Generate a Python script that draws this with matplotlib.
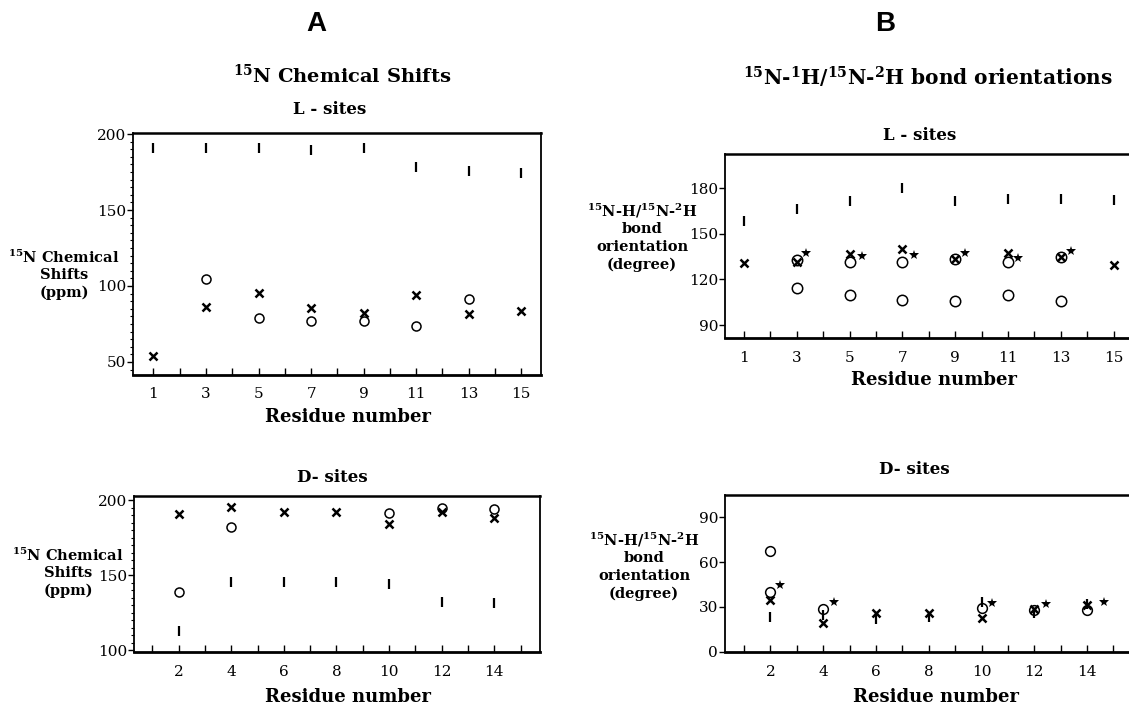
import matplotlib
matplotlib.use('Agg')
import matplotlib.pyplot as plt
from matplotlib.ticker import MultipleLocator

plt.rcParams['font.family'] = 'DejaVu Serif'
plt.rcParams['mathtext.fontset'] = 'dejavuserif'

# residue numbers
res_L = [1, 3, 5, 7, 9, 11, 13, 15]
res_D = [2, 4, 6, 8, 10, 12, 14]

# A: 15N chemical shifts, L-sites
cs_L_bar = [191, 191, 191, 189.5, 191, 178, 175.7, 174.5]
cs_L_x = [54, 86.4, 95.6, 85.5, 82, 94, 81.6, 83.7]
cs_L_circ_res = [3, 5, 7, 9, 11, 13]
cs_L_circ = [104.4, 78.7, 77.2, 77.2, 73.7, 91.4]

# A: 15N chemical shifts, D-sites
cs_D_x = [190.7, 195.1, 192.2, 192.2, 183.8, 191.8, 187.8]
cs_D_bar = [112.4, 145.1, 145.1, 145.1, 143.8, 131.8, 131.1]
cs_D_circ_res = [2, 4, 10, 12, 14]
cs_D_circ = [138.4, 181.8, 191.1, 194.4, 194]

# B: bond orientations, L-sites
or_L_bar = [158.5, 166.4, 171.5, 180, 171.5, 173.2, 172.8, 172.3]
or_L_x = [130.8, 131.8, 137, 140.1, 133.4, 137.3, 134.7, 129.8]
or_L_circ_res = [3, 5, 7, 9, 11, 13]
or_L_circ_hi = [132.9, 131.4, 131.4, 133.4, 131.4, 134.7]
or_L_circ_lo = [114.3, 110, 106.7, 105.6, 110, 105.6]
or_L_star_x = [3.35, 5.47, 7.42, 9.35, 11.37, 13.38]
or_L_star_y = [137.7, 135.1, 136.2, 137.7, 134, 138.4]

# B: bond orientations, D-sites
or_D_x = [34.4, 19.1, 25.8, 25.8, 22.5, 28.8, 31]
or_D_bar = [23.2, 24.3, 22.1, 23.2, 33.2, 25.8, 32.2]
or_D_circ_res = [2, 2, 4, 10, 12, 14]
or_D_circ = [67.5, 40, 28.3, 29.2, 27.7, 28.1]
or_D_star_x = [2.37, 4.41, 10.41, 12.44, 14.65]
or_D_star_y = [44.5, 33.2, 32.6, 31.7, 33.2]

W, H = 1129, 705
fig = plt.figure(figsize=(W / 100, H / 100), dpi=100)


def px_axes(l, t, r, b):
    # axes from pixel box
    return fig.add_axes([l / W, 1 - b / H, (r - l) / W, (b - t) / H])


def style(ax, xt, xlim, ylim, ymajor, yminor=None):
    ax.set_xlim(*xlim)
    ax.set_ylim(*ylim)
    ax.set_xticks(xt)
    ax.xaxis.set_minor_locator(MultipleLocator(1))
    ax.yaxis.set_major_locator(MultipleLocator(ymajor))
    if yminor:
        ax.yaxis.set_minor_locator(MultipleLocator(yminor))
        ax.tick_params(axis='y', which='minor', direction='out', length=2, width=0.8)
    ax.tick_params(axis='x', which='both', direction='in', length=5, width=1, pad=9, labelsize=11)
    ax.tick_params(axis='y', which='major', direction='out', length=4, width=1, pad=1, labelsize=11)
    for s in ax.spines.values():
        s.set_linewidth(1.3)
    ax.spines['bottom'].set_linewidth(2)
    ax.spines['top'].set_linewidth(1.8)


def pts(ax, x, y, kind, ms):
    if kind == 'o':
        ax.plot(x, y, 'o', ls='none', mfc='none', mec='black', ms=ms, mew=1.1)
    elif kind == 'x':
        ax.plot(x, y, 'x', ls='none', color='black', ms=ms, mew=1.8)
    elif kind == '|':
        ax.plot(x, y, '|', ls='none', color='black', ms=ms, mew=1.6)
    else:
        ax.plot(x, y, '*', ls='none', color='black', ms=ms, mew=0)


# top left
ax1 = px_axes(133, 133, 541, 375)
pts(ax1, res_L, cs_L_bar, '|', 7)
pts(ax1, res_L, cs_L_x, 'x', 6)
pts(ax1, cs_L_circ_res, cs_L_circ, 'o', 6.5)
style(ax1, res_L, (0.22, 15.75), (41.4, 200.7), 50, 5)

# bottom left
ax2 = px_axes(134, 496, 540, 652)
pts(ax2, res_D, cs_D_bar, '|', 7)
pts(ax2, res_D, cs_D_x, 'x', 6)
pts(ax2, cs_D_circ_res, cs_D_circ, 'o', 6.5)
style(ax2, res_D, (0.3, 15.74), (98.7, 202.7), 50, 5)

# top right
ax3 = px_axes(725, 154, 1133, 338)
pts(ax3, res_L, or_L_bar, '|', 7)
pts(ax3, res_L, or_L_x, 'x', 6)
pts(ax3, or_L_circ_res, or_L_circ_hi, 'o', 7.5)
pts(ax3, or_L_circ_res, or_L_circ_lo, 'o', 7.5)
pts(ax3, or_L_star_x, or_L_star_y, '*', 7)
style(ax3, res_L, (0.28, 15.73), (81.5, 202.5), 30)

# bottom right
ax4 = px_axes(725, 495, 1133, 652)
pts(ax4, res_D, or_D_bar, '|', 7)
pts(ax4, res_D, or_D_x, 'x', 6)
pts(ax4, or_D_circ_res, or_D_circ, 'o', 7)
pts(ax4, or_D_star_x, or_D_star_y, '*', 7)
style(ax4, res_D, (0.28, 15.74), (-0.3, 105), 30)


def ftext(x, y, s, **kw):
    fig.text(x / W, 1 - y / H, s, ha='center', va='center', **kw)


# panel letters and headings
ftext(316, 24, 'A', family='Liberation Sans', weight='bold', size=20)
ftext(885, 24, 'B', family='Liberation Sans', weight='bold', size=20)
ftext(342, 75, r'$^{\mathbf{15}}$N Chemical Shifts', weight='bold', size=14)
ftext(928, 77, r'$^{\mathbf{15}}$N-$^{\mathbf{1}}$H/$^{\mathbf{15}}$N-$^{\mathbf{2}}$H bond orientations',
      weight='bold', size=14.5)
ftext(330, 110, 'L - sites', weight='bold', size=12)
ftext(332, 478, 'D- sites', weight='bold', size=12)
ftext(920, 135, 'L - sites', weight='bold', size=12)
ftext(914, 470, 'D- sites', weight='bold', size=12)

# y labels, one text per line so they sit between the tick labels
cs_lab = ['$^{\\mathbf{15}}$N Chemical', 'Shifts', '(ppm)']
or_lab = ['$^{\\mathbf{15}}$N-H/$^{\\mathbf{15}}$N-$^{\\mathbf{2}}$H', 'bond', 'orientation', '(degree)']


def ylab(x, y0, lines):
    for i, s in enumerate(lines):
        ftext(x, y0 + 18 * i, s, weight='bold', size=10.5)


ylab(64, 257, cs_lab)
ylab(68, 555, cs_lab)
ylab(642, 211, or_lab)
ylab(644, 540, or_lab)

# x labels
for x, y in [(348, 417), (348, 697), (934, 380), (936, 697)]:
    ftext(x, y, 'Residue number', weight='bold', size=13)

plt.savefig('out.png', dpi=100)
